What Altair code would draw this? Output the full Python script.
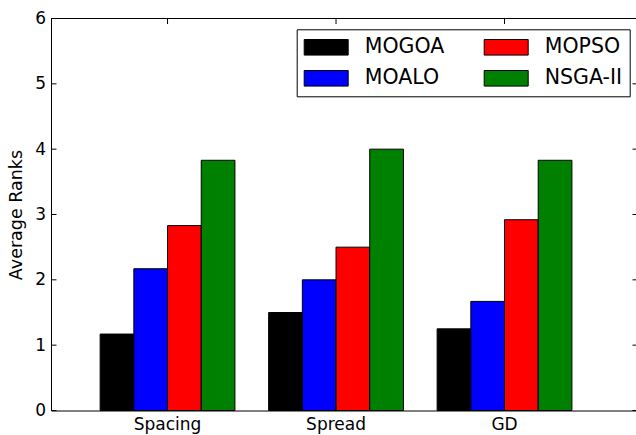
import altair as alt
import pandas as pd

# ---- data ----
metrics = ["Spacing", "Spread", "GD"]
algorithms = ["MOGOA", "MOALO", "MOPSO", "NSGA-II"]
mogoa = [1.17, 1.50, 1.25]
moalo = [2.17, 2.00, 1.67]
mopso = [2.83, 2.50, 2.92]
nsga2 = [3.83, 4.00, 3.83]
y_ticks = [0, 1, 2, 3, 4, 5, 6]
bar_colors = ["#000000", "#0000ff", "#ff0000", "#008000"]

series = dict(zip(algorithms, [mogoa, moalo, mopso, nsga2]))
rows = [
    {"metric": m, "algorithm": a, "rank": series[a][i]}
    for a in algorithms
    for i, m in enumerate(metrics)
]
df = pd.DataFrame(rows)

W, H = 585, 392
FONT = "DejaVu Sans"
TICK = 5.5

x_scale = alt.Scale(domain=metrics, paddingInner=0.2, paddingOuter=0.336, align=0.434)
y_scale = alt.Scale(domain=[0, 6], nice=False, zero=True)

x_axis = alt.Axis(
    title=None, labelAngle=0, ticks=False, labelPadding=6,
    labelFontSize=17, labelFont=FONT, labelColor="black",
    domainColor="black", domainWidth=1, grid=False,
)
y_axis = alt.Axis(
    title="Average Ranks", values=y_ticks, ticks=False, labelPadding=5.5,
    labelFontSize=17, labelFont=FONT, labelColor="black",
    titleFontSize=17.5, titleFont=FONT, titleFontWeight="normal",
    titleColor="black", titlePadding=9,
    domainColor="black", domainWidth=1, grid=False,
)

bars = alt.Chart(df).mark_bar(stroke="black", strokeWidth=1).encode(
    x=alt.X("metric:N", scale=x_scale, sort=metrics, axis=x_axis),
    xOffset=alt.XOffset("algorithm:N", sort=algorithms,
                        scale=alt.Scale(paddingInner=0, paddingOuter=0)),
    y=alt.Y("rank:Q", scale=y_scale, axis=y_axis),
    color=alt.Color(
        "algorithm:N",
        scale=alt.Scale(domain=algorithms, range=bar_colors),
        legend=alt.Legend(
            title=None, orient="none", legendX=245.7, legendY=10.8, columns=2,
            symbolType="M-2.2,-0.78L2.2,-0.78L2.2,0.78L-2.2,0.78Z",
            symbolSize=400, symbolStrokeColor="black", symbolStrokeWidth=1,
            symbolOffset=11.5, labelOffset=28, labelFontSize=20.5, labelFont=FONT,
            labelColor="black", labelLimit=300, columnPadding=37, rowPadding=10,
            padding=7.5, strokeColor="black", fillColor="white", cornerRadius=0,
        ),
    ),
)

ytick_df = pd.DataFrame({"rank": y_ticks})
left_ticks = alt.Chart(ytick_df).mark_rule(color="black", strokeWidth=1).encode(
    y=alt.Y("rank:Q", scale=y_scale, axis=y_axis), x=alt.value(0), x2=alt.value(TICK)
)
right_ticks = alt.Chart(ytick_df).mark_rule(color="black", strokeWidth=1).encode(
    y=alt.Y("rank:Q", scale=y_scale, axis=y_axis), x=alt.value(W - 3.5), x2=alt.value(W + 2)
)

xtick_df = pd.DataFrame({"metric": metrics})
top_ticks = alt.Chart(xtick_df).mark_rule(color="black", strokeWidth=1).encode(
    x=alt.X("metric:N", scale=x_scale, sort=metrics, bandPosition=0.5, axis=x_axis),
    y=alt.value(0), y2=alt.value(TICK),
)
bottom_ticks = alt.Chart(xtick_df).mark_rule(color="black", strokeWidth=1).encode(
    x=alt.X("metric:N", scale=x_scale, sort=metrics, bandPosition=0.5, axis=x_axis),
    y=alt.value(H - TICK), y2=alt.value(H),
)
top_spine = alt.Chart(xtick_df).mark_rule(color="black", strokeWidth=1).encode(
    x=alt.value(0), x2=alt.value(W + 2), y=alt.value(0)
)

chart = (
    alt.layer(bars, left_ticks, right_ticks, top_ticks, bottom_ticks, top_spine)
    .properties(
        width=W, height=H,
        autosize=alt.AutoSizeParams(type="none"),
        padding={"left": 51, "top": 18.5, "right": 0, "bottom": 24.5},
        background="white",
    )
    .configure_view(stroke=None)
    .configure_legend(strokeWidth=1)
)

chart.save("out.html", embed_options={"renderer": "svg", "actions": False})
